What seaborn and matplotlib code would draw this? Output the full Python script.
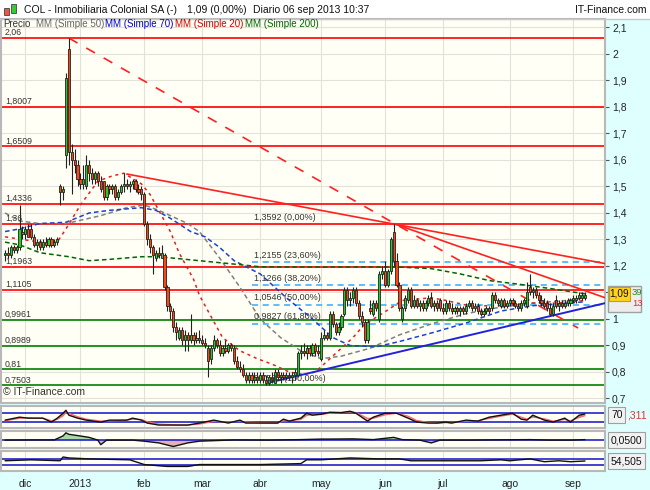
import numpy as np
import pandas as pd
import matplotlib
matplotlib.use("Agg")
import matplotlib.pyplot as plt
from matplotlib.patches import Rectangle
import seaborn as sns

W, H = 650, 490

# trading days on the chart (Madrid holidays removed)
holidays = ["2012-12-25", "2012-12-26", "2013-01-01", "2013-03-29", "2013-04-01", "2013-05-01"]
dates = pd.bdate_range("2012-11-22", "2013-09-06")
dates = dates[~dates.isin(pd.to_datetime(holidays))]

opens = [1.24,1.25,1.24,1.27,1.26,1.27,1.33,1.32,1.34,1.34,
         1.31,1.28,1.29,1.27,1.29,1.28,1.30,1.28,1.29,1.50,
         1.48,1.62,2.02,1.63,1.60,1.58,1.53,1.51,1.50,1.58,
         1.55,1.53,1.55,1.52,1.52,1.46,1.50,1.49,1.50,1.46,
         1.48,1.50,1.51,1.50,1.51,1.52,1.49,1.49,1.47,1.36,
         1.30,1.27,1.23,1.25,1.23,1.24,1.12,1.05,1.03,0.97,
         0.93,0.96,0.92,0.94,0.92,0.94,0.92,0.93,0.92,0.91,
         0.89,0.85,0.89,0.92,0.90,0.87,0.89,0.88,0.90,0.89,
         0.84,0.82,0.81,0.79,0.77,0.79,0.77,0.78,0.77,0.79,
         0.77,0.76,0.78,0.76,0.80,0.78,0.79,0.78,0.79,0.78,
         0.79,0.79,0.87,0.88,0.87,0.89,0.87,0.90,0.88,0.85,
         0.93,0.94,0.93,1.02,0.98,0.95,0.97,1.02,1.11,1.07,
         1.08,1.11,1.06,1.01,0.99,0.92,1.04,1.02,1.06,1.00,
         1.17,1.18,1.13,1.18,1.33,1.22,1.13,1.00,1.04,1.07,
         1.11,1.05,1.07,1.05,1.06,1.04,1.06,1.08,1.05,1.06,
         1.07,1.04,1.03,1.06,1.04,1.03,1.04,1.03,1.04,1.03,
         1.05,1.06,1.04,1.05,1.03,1.02,1.03,1.04,1.04,1.09,
         1.07,1.05,1.07,1.05,1.06,1.07,1.06,1.05,1.04,1.06,
         1.05,1.12,1.10,1.11,1.09,1.07,1.06,1.06,1.04,1.02,
         1.07,1.05,1.06,1.05,1.06,1.06,1.07,1.07,1.08,1.08,
         1.08]
highs = [1.26,1.27,1.28,1.28,1.28,1.43,1.35,1.35,1.36,1.36,
         1.32,1.30,1.30,1.30,1.31,1.31,1.31,1.30,1.31,1.51,
         1.50,1.93,2.06,1.66,1.64,1.60,1.55,1.58,1.62,1.60,
         1.57,1.56,1.56,1.54,1.52,1.51,1.51,1.51,1.51,1.49,
         1.51,1.55,1.53,1.52,1.53,1.53,1.51,1.50,1.48,1.37,
         1.32,1.28,1.26,1.27,1.28,1.25,1.13,1.06,1.04,0.99,
         0.97,0.97,0.96,0.95,1.02,0.95,0.95,0.96,0.94,0.93,
         0.90,0.90,0.94,0.93,0.92,0.90,0.92,0.91,0.91,0.90,
         0.86,0.84,0.83,0.80,0.80,0.80,0.80,0.80,0.80,0.80,
         0.79,0.79,0.80,0.81,0.81,0.80,0.80,0.80,0.80,0.80,
         0.81,0.88,0.90,0.91,0.90,0.90,0.91,0.91,0.90,0.95,
         0.96,0.95,1.03,1.03,0.99,0.99,1.02,1.12,1.12,1.10,
         1.12,1.12,1.07,1.03,1.00,1.00,1.07,1.07,1.07,1.18,
         1.20,1.22,1.19,1.31,1.36,1.25,1.14,1.05,1.09,1.12,
         1.12,1.09,1.08,1.07,1.07,1.07,1.09,1.10,1.07,1.07,
         1.08,1.06,1.07,1.07,1.06,1.05,1.05,1.05,1.05,1.06,
         1.07,1.07,1.06,1.06,1.04,1.04,1.05,1.05,1.10,1.10,
         1.08,1.08,1.08,1.07,1.08,1.08,1.07,1.06,1.07,1.08,
         1.14,1.17,1.12,1.12,1.10,1.09,1.08,1.07,1.06,1.06,
         1.09,1.07,1.07,1.07,1.08,1.08,1.09,1.09,1.10,1.10,
         1.10]
lows = [1.22,1.23,1.23,1.25,1.25,1.26,1.30,1.30,1.31,1.30,
        1.27,1.26,1.26,1.26,1.27,1.27,1.27,1.27,1.28,1.43,
        1.45,1.57,1.58,1.47,1.55,1.50,1.49,1.49,1.49,1.52,
        1.51,1.51,1.50,1.48,1.45,1.45,1.47,1.47,1.45,1.45,
        1.47,1.48,1.49,1.48,1.49,1.48,1.47,1.45,1.35,1.28,
        1.25,1.17,1.22,1.23,1.23,1.11,1.03,1.00,0.95,0.92,
        0.92,0.90,0.88,0.88,0.91,0.90,0.91,0.91,0.90,0.89,
        0.78,0.83,0.88,0.89,0.86,0.86,0.87,0.87,0.88,0.83,
        0.81,0.80,0.78,0.76,0.76,0.76,0.76,0.76,0.76,0.76,
        0.75,0.75,0.76,0.76,0.77,0.76,0.77,0.77,0.77,0.76,
        0.77,0.78,0.85,0.86,0.85,0.86,0.86,0.86,0.86,0.84,
        0.92,0.92,0.92,0.97,0.94,0.94,0.96,1.01,1.05,1.05,
        1.06,1.05,1.00,0.97,0.91,0.91,1.02,1.01,1.03,0.99,
        1.15,1.12,1.12,1.17,1.20,1.12,1.03,0.99,1.03,1.06,
        1.04,1.04,1.04,1.03,1.03,1.03,1.05,1.04,1.03,1.03,
        1.03,1.02,1.02,1.03,1.02,1.02,1.02,1.01,1.02,1.02,
        1.04,1.03,1.03,1.02,1.01,1.01,1.02,1.02,1.03,1.06,
        1.05,1.04,1.04,1.04,1.05,1.05,1.04,1.03,1.03,1.05,
        1.04,1.09,1.08,1.08,1.06,1.05,1.04,1.03,1.01,1.01,
        1.04,1.03,1.04,1.04,1.05,1.05,1.06,1.06,1.07,1.07,
        1.07]
closes = [1.25,1.24,1.27,1.26,1.27,1.34,1.32,1.34,1.31,1.31,
          1.28,1.29,1.27,1.29,1.28,1.30,1.28,1.29,1.30,1.48,
          1.49,1.91,1.63,1.60,1.58,1.53,1.51,1.53,1.58,1.55,
          1.53,1.55,1.52,1.49,1.46,1.50,1.49,1.50,1.46,1.48,
          1.50,1.51,1.50,1.51,1.52,1.49,1.48,1.47,1.36,1.30,
          1.27,1.24,1.25,1.24,1.25,1.12,1.05,1.03,0.97,0.95,
          0.96,0.92,0.94,0.92,0.94,0.92,0.93,0.92,0.91,0.90,
          0.84,0.89,0.92,0.90,0.87,0.89,0.88,0.90,0.89,0.84,
          0.82,0.81,0.79,0.77,0.79,0.77,0.78,0.77,0.79,0.77,
          0.76,0.78,0.77,0.80,0.78,0.79,0.78,0.79,0.78,0.79,
          0.80,0.87,0.88,0.87,0.89,0.87,0.90,0.88,0.87,0.93,
          0.94,0.93,1.02,0.98,0.95,0.97,1.01,1.11,1.07,1.08,
          1.11,1.06,1.01,0.99,0.92,0.99,1.03,1.06,1.04,1.17,
          1.18,1.13,1.18,1.30,1.22,1.13,1.04,1.04,1.08,1.11,
          1.05,1.07,1.05,1.06,1.04,1.06,1.08,1.05,1.06,1.04,
          1.04,1.03,1.06,1.04,1.03,1.04,1.03,1.04,1.03,1.05,
          1.06,1.04,1.05,1.03,1.02,1.03,1.04,1.03,1.09,1.07,
          1.06,1.07,1.05,1.06,1.07,1.06,1.05,1.04,1.06,1.07,
          1.10,1.10,1.11,1.09,1.07,1.06,1.05,1.04,1.02,1.05,
          1.05,1.06,1.05,1.06,1.07,1.07,1.08,1.08,1.09,1.09,
          1.09]

# moving averages (day index, value)
ma20_day = [0,12,18,21,26,32,37,41,47,50,53,57,60,65,67,72,75,81,87,92,98,103,107,113,120,124,130,137,147,152,160,171,181,191,200]
ma20_val = [1.31,1.29,1.29,1.34,1.43,1.52,1.54,1.55,1.51,1.47,1.41,1.33,1.25,1.15,1.09,0.99,0.93,0.88,0.85,0.83,0.80,0.79,0.80,0.86,0.93,0.98,1.02,1.07,1.08,1.07,1.05,1.05,1.06,1.06,1.07]
ma50_day = [0,5,12,21,33,42,48,53,63,67,74,81,88,95,102,109,116,126,136,148,159,171,182,194,200]
ma50_val = [1.40,1.37,1.36,1.36,1.39,1.42,1.43,1.41,1.36,1.33,1.23,1.12,1.00,0.93,0.88,0.85,0.86,0.89,0.94,0.985,1.02,1.045,1.06,1.07,1.08]
ma70_day = [0,5,12,21,29,36,47,52,57,64,69,74,79,88,97,106,113,119,128,136,148,159,171,182,194,200]
ma70_val = [1.33,1.34,1.36,1.365,1.40,1.41,1.42,1.41,1.38,1.33,1.31,1.27,1.22,1.17,1.08,1.00,0.93,0.90,0.895,0.915,0.95,0.985,1.03,1.05,1.06,1.065]
ma200_day = [0,5,12,22,29,36,47,53,67,81,88,102,119,136,147,157,167,178,188,200]
ma200_val = [1.29,1.28,1.25,1.235,1.22,1.225,1.235,1.235,1.22,1.205,1.197,1.196,1.196,1.196,1.19,1.17,1.145,1.13,1.115,1.095]

# stochastic %K / %D
stoch_day = [0,5,8,10,13,16,18,20,21,22,25,28,33,36,42,44,47,49,53,59,63,67,72,77,81,83,88,94,96,98,
             102,104,106,109,112,116,119,121,125,127,131,135,139,142,146,149,152,154,159,163,167,171,175,178,180,182,186,189,193,195,198,200]
stoch_k = [34,52,46,46,46,22,46,76,94,64,46,34,22,34,34,46,34,16,4,4,4,16,34,16,34,16,16,16,40,28,
           46,76,64,70,82,80,88,76,28,52,76,76,46,22,16,16,22,16,34,28,52,64,76,40,34,64,34,22,46,22,64,72]
stoch_d = [30,45,48,46,46,30,38,60,80,75,55,40,28,30,34,40,38,24,10,5,4,10,26,22,28,22,18,16,30,30,
           38,62,68,68,76,80,84,80,45,45,66,76,58,32,20,16,18,18,28,30,44,58,70,52,40,52,42,28,38,30,50,61]

# momentum (12)
mom_day = [0,9,17,20,21,22,25,29,32,33,35,44,48,53,58,63,67,79,91,102,109,112,120,127,134,137,143,147,150,160,171,181,188,195,200]
mom_val = [0.0,0.02,0.02,0.40,0.69,0.55,0.43,0.26,0.0,-0.43,0.0,0.0,-0.1,-0.26,-0.6,-0.26,-0.1,0.02,0.0,0.05,
           0.1,0.1,0.12,0.05,0.26,0.05,0.0,-0.26,0.0,0.0,0.03,0.05,0.0,0.0,0.05]

# RSI (14)
rsi_day = [0,9,19,20,22,29,43,48,56,63,67,88,102,104,109,119,129,136,140,150,164,171,174,181,186,191,195,200]
rsi_val = [56,62,56,80,74,68,62,32,20,20,32,32,38,62,62,74,68,68,56,56,56,62,56,68,50,56,50,54.5]

# horizontal levels
red_levels = [2.06, 1.8007, 1.6509, 1.4336, 1.36, 1.1963, 1.1105]
red_labels = ["2,06", "1,8007", "1,6509", "1,4336", "1,36", "1,1963", "1,1105"]
green_levels = [0.9961, 0.8989, 0.81, 0.7503]
green_labels = ["0,9961", "0,8989", "0,81", "0,7503"]
fib_levels = [1.2155, 1.1266, 1.0546, 0.9827]
fib_text_levels = [1.3592, 1.2155, 1.1266, 1.0546, 0.9827, 0.7503]
fib_labels = ["1,3592 (0,00%)", "1,2155 (23,60%)", "1,1266 (38,20%)", "1,0546 (50,00%)",
              "0,9827 (61,80%)", "0,7503 (100,00%)"]
fib_start = 85

# trend lines (day index, price)
dash_trend = ([22, 197.6], [2.06, 0.966])
red_trend_a = ([42, 207], [1.547, 1.209])
red_trend_b = ([134, 207], [1.36, 1.08])
blue_trend = ([91, 207], [0.76, 1.06])

price_ticks = [0.7, 0.8, 0.9, 1.0, 1.1, 1.2, 1.3, 1.4, 1.5, 1.6, 1.7, 1.8, 1.9, 2.0, 2.1]
price_tick_labels = ["0,7", "0,8", "0,9", "1", "1,1", "1,2", "1,3", "1,4", "1,5", "1,6", "1,7", "1,8", "1,9", "2", "2,1"]
month_labels = ["dic", "2013", "feb", "mar", "abr", "may", "jun", "jul", "ago", "sep"]

sns.set_style("white")
plt.rcParams["font.family"] = ["Liberation Sans", "DejaVu Sans"]

PANEL_BG = "#FFFFF5"
GRID = "#E2E2DA"
FRAME = "#B8B8B8"


def fx(px):
    return px / W


def fy(py):
    return 1 - py / H


def panel(top, bottom):
    a = fig.add_axes([fx(1), fy(bottom), fx(605) - fx(1), fy(top) - fy(bottom)])
    a.set_facecolor(PANEL_BG)
    for s in a.spines.values():
        s.set_color(FRAME)
        s.set_linewidth(1.5)
    return a


fig = plt.figure(figsize=(6.5, 4.9), dpi=100, facecolor="#DFFFFF")
fig.add_artist(Rectangle((0, fy(19)), 1, 19 / H, transform=fig.transFigure,
                         facecolor="white", edgecolor="none", zorder=0))
fig.add_artist(plt.Line2D([0, 1], [fy(19), fy(19)], transform=fig.transFigure, color="#C8C8C8", lw=1))

x = np.arange(len(closes))
o = np.array(opens); h = np.array(highs); l = np.array(lows); c = np.array(closes)
xmin, xmax = -1.4, 206.9
month_starts = [i for i in range(1, len(dates)) if dates[i].month != dates[i - 1].month]

# ---------------- main price panel ----------------
ax = panel(19, 403)
ax.set_xlim(xmin, xmax)
ax.set_ylim(0.683, 2.132)
ax.set_yticks(price_ticks)
ax.set_yticklabels(price_tick_labels)
ax.yaxis.tick_right()
ax.tick_params(axis="y", length=3, width=0.8, color="#555555", labelsize=7.5, pad=2, labelcolor="#222222")
ax.set_xticks(month_starts)
ax.tick_params(axis="x", length=0, labelbottom=False)
ax.grid(True, color=GRID, lw=0.8)
ax.set_axisbelow(True)

for lv in red_levels:
    ax.axhline(lv, color="#FF0000", lw=1.2, zorder=2)
for lv in green_levels:
    ax.axhline(lv, color="#008000", lw=1.2, zorder=2)
for lv, t in zip(red_levels + green_levels, red_labels + green_labels):
    ax.annotate(t, (0, lv), xytext=(0, 0.6), textcoords="offset points", fontsize=6.3,
                color="#333333", va="bottom", ha="left", zorder=6)

for lv in fib_levels:
    ax.hlines(lv, fib_start, xmax, color="#33AAFF", lw=1.1, linestyles=(0, (4, 3)), zorder=2)
for lv, t in zip(fib_text_levels, fib_labels):
    ax.annotate(t, (fib_start + 1, lv), xytext=(0, 1.5), textcoords="offset points", fontsize=6.5,
                color="#333333", va="bottom", ha="left", zorder=6)

# moving averages
sns.lineplot(x=ma50_day, y=ma50_val, ax=ax, color="#808080", lw=1.1, linestyle=(0, (3, 2)), zorder=3)
sns.lineplot(x=ma70_day, y=ma70_val, ax=ax, color="#1F3FD0", lw=1.1, linestyle=(0, (3, 2)), zorder=3)
sns.lineplot(x=ma20_day, y=ma20_val, ax=ax, color="#E02020", lw=1.1, linestyle=(0, (2, 2.5)), zorder=3)
sns.lineplot(x=ma200_day, y=ma200_val, ax=ax, color="#006600", lw=1.1, linestyle=(0, (3, 2)), zorder=3)

# trend lines
sns.lineplot(x=dash_trend[0], y=dash_trend[1], ax=ax, color="#FF2020", lw=1.2, linestyle=(0, (6, 6)), zorder=3)
sns.lineplot(x=red_trend_a[0], y=red_trend_a[1], ax=ax, color="#FF2020", lw=1.2, zorder=3)
sns.lineplot(x=red_trend_b[0], y=red_trend_b[1], ax=ax, color="#FF2020", lw=1.2, zorder=3)
sns.lineplot(x=blue_trend[0], y=blue_trend[1], ax=ax, color="#2222DD", lw=1.4, zorder=3)

# candles
up = c >= o
body_lo = np.minimum(o, c)
body_h = np.maximum(np.abs(c - o), 0.004)
ax.vlines(x, l, h, color="#222222", lw=0.8, zorder=4)
ax.bar(x[up], body_h[up], bottom=body_lo[up], width=0.75, color="#22CC22", edgecolor="#222222", lw=0.6, zorder=5)
ax.bar(x[~up], body_h[~up], bottom=body_lo[~up], width=0.75, color="#FF4411", edgecolor="#222222", lw=0.6, zorder=5)
ax.set_xlim(xmin, xmax)
ax.set_ylim(0.683, 2.132)
ax.set_xlabel("")
ax.set_ylabel("")

ax.text(0.004, 0.015, "\u00a9 IT-Finance.com", transform=ax.transAxes, fontsize=7.5, color="#333333",
        ha="left", va="bottom", zorder=7)

# ---------------- indicator panels ----------------
def setup_indicator(a, lo, hi, lines):
    a.set_xlim(xmin, xmax)
    a.set_ylim(lo, hi)
    a.set_yticks([])
    a.set_xticks(month_starts)
    a.tick_params(axis="x", length=0, labelbottom=False)
    a.grid(True, axis="x", color=GRID, lw=0.8)
    a.set_axisbelow(True)
    for v in lines:
        a.axhline(v, color="#2222CC", lw=1.2, zorder=2)
    a.set_xlabel("")
    a.set_ylabel("")


ax_st = panel(406, 428)
kx = np.array(stoch_day, dtype=float)
kk = np.array(stoch_k, dtype=float)
dd = np.array(stoch_d, dtype=float)
ax_st.fill_between(kx, kk, dd, where=kk >= dd, interpolate=True, color="#8C8C8C", alpha=0.8, lw=0, zorder=2)
ax_st.fill_between(kx, kk, dd, where=kk < dd, interpolate=True, color="#FFB4B4", lw=0, zorder=2)
sns.lineplot(x=stoch_day, y=stoch_d, ax=ax_st, color="#FF6666", lw=0.9, zorder=3)
sns.lineplot(x=stoch_day, y=stoch_k, ax=ax_st, color="#111111", lw=1.0, zorder=4)
setup_indicator(ax_st, -14, 120, [80, 20])

ax_mo = panel(431, 448)
mx = np.array(mom_day, dtype=float)
mv = np.array(mom_val)
ax_mo.fill_between(mx, mv, 0, where=mv >= 0, interpolate=True, color="#A8D8A8", lw=0, zorder=2)
ax_mo.fill_between(mx, mv, 0, where=mv < 0, interpolate=True, color="#E8B0B0", lw=0, zorder=2)
sns.lineplot(x=mom_day, y=mom_val, ax=ax_mo, color="#111111", lw=1.0, zorder=4)
setup_indicator(ax_mo, -0.74, 0.86, [0])

ax_rs = panel(451, 471)
rx = np.array(rsi_day, dtype=float)
rv = np.array(rsi_val, dtype=float)
ax_rs.fill_between(rx, rv, 30, where=rv < 30, interpolate=True, color="#9C9CE0", lw=0, zorder=2)
sns.lineplot(x=rsi_day, y=rsi_val, ax=ax_rs, color="#111111", lw=1.0, zorder=4)
setup_indicator(ax_rs, -9, 118, [70, 30])
ax_rs.tick_params(axis="x", labelbottom=True, labelsize=7.5, pad=6, labelcolor="#222222")
ax_rs.set_xticklabels(month_labels)

# ---------------- header / legend texts ----------------
fig.add_artist(Rectangle((fx(4), fy(15)), fx(5), 7 / H, transform=fig.transFigure,
                         facecolor="#EE5544", edgecolor="#444444", lw=0.6))
fig.add_artist(Rectangle((fx(10.5), fy(13)), fx(5), 9 / H, transform=fig.transFigure,
                         facecolor="#33CC33", edgecolor="#444444", lw=0.6))
hy = fy(10)
fig.text(fx(24), hy, "COL - Inmobiliaria Colonial SA (-)", fontsize=7.5, va="center", color="#111111")
fig.text(fx(187), hy, "1,09 (0,00%)", fontsize=7.5, va="center", color="#111111")
fig.text(fx(253), hy, "Diario 06 sep 2013 10:37", fontsize=7.5, va="center", color="#111111")
fig.text(fx(646), hy, "IT-Finance.com", fontsize=7.5, va="center", ha="right", color="#111111")

ly = fy(24)
legend_parts = [(3, "Precio", "#333333"), (36, "MM (Simple 50)", "#666666"), (105, "MM (Simple 70)", "#0000CC"),
                (175, "MM (Simple 20)", "#CC0000"), (245, "MM (Simple 200)", "#006600")]
for px_, txt, col in legend_parts:
    fig.text(fx(px_), ly, txt, fontsize=7, va="center", color=col, zorder=8)

# ---------------- right-side value boxes ----------------
fig.add_artist(Rectangle((fx(608), fy(312)), fx(33), 26 / H, transform=fig.transFigure,
                         facecolor="#EDEDED", edgecolor="#A0A0A0", lw=1, zorder=9))
fig.text(fx(632), fy(292), "39", fontsize=6.8, va="center", color="#228822", zorder=10)
fig.text(fx(632), fy(304), "13", fontsize=6.8, va="center", color="#CC3333", zorder=10)
fig.add_artist(Rectangle((fx(609), fy(301)), fx(21), 14 / H, transform=fig.transFigure,
                         facecolor="#FFD21E", edgecolor="#C8A000", lw=0.8, zorder=11))
fig.text(fx(619.5), fy(294), "1,09", fontsize=7.2, va="center", ha="center", color="#111111", zorder=12)

box = dict(boxstyle="square,pad=0.25", facecolor="#F2F2F2", edgecolor="#A0A0A0", lw=0.8)
fig.text(fx(611), fy(415), "70", fontsize=7.5, va="center", color="#111111", bbox=box, zorder=12)
fig.text(fx(627), fy(415), ",311", fontsize=7.5, va="center", color="#DD3333", zorder=11)
fig.text(fx(611), fy(440), "0,0500", fontsize=7.5, va="center", color="#111111", bbox=box, zorder=12)
fig.text(fx(611), fy(461), "54,505", fontsize=7.5, va="center", color="#111111", bbox=box, zorder=12)

fig.savefig("out.png", dpi=100, facecolor=fig.get_facecolor())
